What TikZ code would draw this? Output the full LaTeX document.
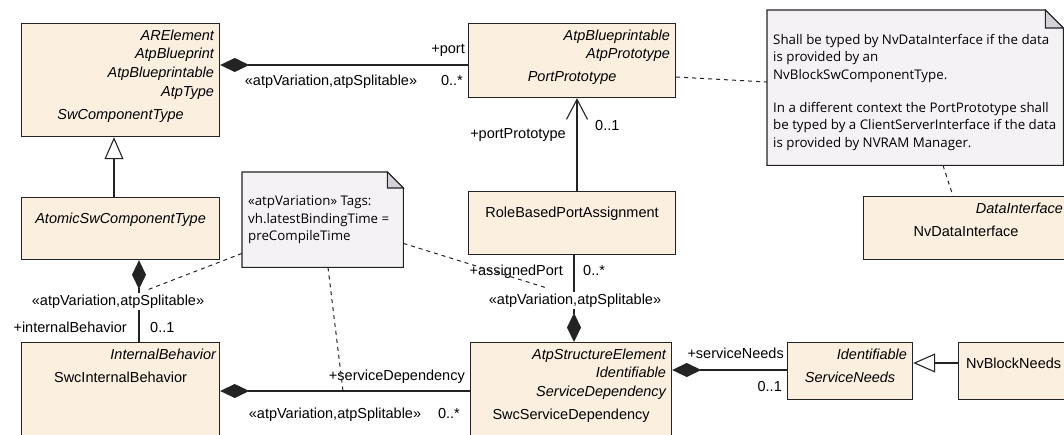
\documentclass[tikz,border=0pt]{standalone}
\usepackage{fontspec}
\setmainfont{Liberation Sans}
\newfontfamily\notefont{Open Sans}
\usetikzlibrary{arrows.meta,calc,positioning}

\definecolor{clsfill}{RGB}{251,240,224}
\definecolor{notefill}{RGB}{245,242,246}
\definecolor{foldfill}{RGB}{212,210,216}
\definecolor{umlline}{RGB}{35,35,35}

\def\clsfont{\fontsize{14.5}{17}\selectfont}
\def\notesize{\fontsize{13.3}{17.4}\selectfont}

\begin{document}
\begin{tikzpicture}[x=1pt, y=-1pt,
		cls/.style={draw=umlline, fill=clsfill, line width=1.2pt, anchor=north west, inner sep=0pt},
		stereo/.style={font=\clsfont\itshape, anchor=base east, inner sep=0pt},
		clsname/.style={font=\clsfont, anchor=base, inner sep=0pt},
		absname/.style={clsname, font=\clsfont\itshape},
		lbl/.style={font=\clsfont, inner sep=0pt},
		onlbl/.style={lbl, fill=white, inner sep=1.5pt},
		comp/.style={draw=umlline, line width=1.1pt, {Diamond[length=29pt, width=14pt]}-},
		gen/.style={draw=umlline, line width=1.1pt, -{Triangle[length=22pt, width=19pt, fill=white]}},
		nav/.style={draw=umlline, line width=1.1pt, -{Straight Barb[length=20pt, width=21pt]}},
		notebox/.style={anchor=north west, inner sep=0pt},
		notepath/.style={draw=umlline, fill=notefill, line width=1.1pt},
		foldpath/.style={draw=umlline, fill=foldfill, line width=1.1pt},
		notetext/.style={font=\notefont\notesize, anchor=north west, align=left, inner sep=0pt},
		anchorline/.style={draw=umlline, line width=1pt, dash pattern=on 4pt off 4pt}
	]

		\useasboundingbox (0,0) rectangle (1064,434);

		\def\sfirst{17}   % baseline of first superclass line below box top
		\def\sstep{18.9}  % line distance of superclass lines
		\def\sgap{23}     % from last superclass line to class name
		\def\fold{18}     % folded corner of the notes

		% Notes
		\node[notebox, minimum width=296, minimum height=155] (noteA) at (767,10) {};
		\draw[notepath] (noteA.north west) -- ($(noteA.north east)+(-\fold,0)$) -- ($(noteA.north east)+(0,\fold)$)
			-- (noteA.south east) -- (noteA.south west) -- cycle;
		\draw[foldpath] ($(noteA.north east)+(-\fold,0)$) -- ($(noteA.north east)+(-\fold,\fold)$) -- ($(noteA.north east)+(0,\fold)$) -- cycle;
		\node[notetext] (noteA-t) at ($(noteA.north west)+(6,24)$)
			{Shall be typed by NvDataInterface if the data\\is provided by an\\NvBlockSwComponentType.\\[16pt]In a different context the PortPrototype shall\\be typed by a ClientServerInterface if the data\\is provided by NVRAM Manager.};

		\node[notebox, minimum width=161, minimum height=95] (noteB) at (242,172) {};
		\draw[notepath] (noteB.north west) -- ($(noteB.north east)+(-16,0)$) -- ($(noteB.north east)+(0,16)$)
			-- (noteB.south east) -- (noteB.south west) -- cycle;
		\draw[foldpath] ($(noteB.north east)+(-16,0)$) -- ($(noteB.north east)+(-16,16)$) -- ($(noteB.north east)+(0,16)$) -- cycle;
		\node[notetext] (noteB-t) at ($(noteB.north west)+(6,24)$)
			{«atpVariation» Tags:\\vh.latestBindingTime =\\preCompileTime};

		% Classes
		\node[cls, minimum width=198, minimum height=113] (swct) at (21,23) {};
		\foreach \s [count=\k] in {ARElement,AtpBlueprint,AtpBlueprintable,AtpType}
			\node[stereo] (swct-s\k) at ($(swct.north east)+(-6,{\sfirst+\sstep*(\k-1)})$) {\s};
		\node[absname] (swct-n) at ($(swct.north)+(0,{\sfirst+\sstep*3+\sgap})$) {SwComponentType};

		\node[cls, minimum width=207, minimum height=74] (port) at (468,23) {};
		\foreach \s [count=\k] in {AtpBlueprintable,AtpPrototype}
			\node[stereo] (port-s\k) at ($(port.north east)+(-6,{\sfirst+\sstep*(\k-1)})$) {\s};
		\node[absname] (port-n) at ($(port.north)+(0,{\sfirst+\sstep+\sgap})$) {PortPrototype};

		\node[cls, minimum width=198, minimum height=62] (atomic) at (21,197) {};
		\node[absname] (atomic-n) at ($(atomic.north)+(0,26)$) {AtomicSwComponentType};

		\node[cls, minimum width=207, minimum height=63] (rbpa) at (468,191) {};
		\node[clsname] (rbpa-n) at ($(rbpa.north)+(0,26)$) {RoleBasedPortAssignment};

		\node[cls, minimum width=205, minimum height=63] (nvdi) at (863,196) {};
		\node[stereo] (nvdi-s1) at ($(nvdi.north east)+(-6,\sfirst)$) {DataInterface};
		\node[clsname] (nvdi-n) at ($(nvdi.north)+(0,{\sfirst+\sgap})$) {NvDataInterface};

		\node[cls, minimum width=198, minimum height=100] (sib) at (21,342) {};
		\node[stereo] (sib-s1) at ($(sib.north east)+(-4,\sfirst)$) {InternalBehavior};
		\node[clsname] (sib-n) at ($(sib.north)+(0,{\sfirst+\sgap})$) {SwcInternalBehavior};

		\node[cls, minimum width=201, minimum height=100] (ssd) at (470,342) {};
		\foreach \s [count=\k] in {AtpStructureElement,Identifiable,ServiceDependency}
			\node[stereo] (ssd-s\k) at ($(ssd.north east)+(-6,{\sfirst+\sstep*(\k-1)})$) {\s};
		\node[clsname] (ssd-n) at ($(ssd.north)+(0,{\sfirst+\sstep*2+\sgap})$) {SwcServiceDependency};

		\node[cls, minimum width=125, minimum height=57] (sneeds) at (787,342) {};
		\node[stereo] (sneeds-s1) at ($(sneeds.north east)+(-6,\sfirst)$) {Identifiable};
		\node[absname] (sneeds-n) at ($(sneeds.north)+(0,{\sfirst+\sgap})$) {ServiceNeeds};

		\node[cls, minimum width=110, minimum height=57] (nvbn) at (958,342) {};
		\node[clsname] (nvbn-n) at ($(nvbn.north)+(0,26)$) {NvBlockNeeds};

		% Generalizations
		\draw[gen] ($(atomic.north west)+(93,0)$) -- ($(swct.south west)+(93,0)$);
		\draw[gen] ($(nvbn.north west)+(0,21)$) -- ($(sneeds.north east)+(0,21)$);

		% Navigable association
		\draw[nav] ($(rbpa.north west)+(109,0)$) -- ($(port.south west)+(109,0)$);
		\node[lbl, anchor=base] (l-pp) at (518,138) {+portPrototype};
		\node[lbl, anchor=base west] (l-ppm) at (595,130) {0..1};

		% Compositions
		\draw[comp] ($(swct.north east)+(0,42)$) -- ($(port.north west)+(0,42)$);
		\node[lbl, anchor=base east] (l-port) at (465,53) {+port};
		\node[lbl, anchor=base east] (l-portm) at (463,85) {0..*};
		\node[lbl, anchor=base] (l-portv) at (331,85) {«atpVariation,atpSplitable»};

		\draw[comp] ($(atomic.south west)+(118,0)$) -- ($(sib.north west)+(118,0)$);
		\node[onlbl, anchor=base] (l-ibv) at (118,305) {«atpVariation,atpSplitable»};
		\node[lbl, anchor=base east] (l-ib) at (127,332) {+internalBehavior};
		\node[lbl, anchor=base west] (l-ibm) at (150,332) {0..1};

		\draw[comp] ($(ssd.north west)+(104,0)$) -- ($(rbpa.south west)+(106,0)$);
		\node[onlbl, anchor=base] (l-apv) at (575,304) {«atpVariation,atpSplitable»};
		\node[lbl, anchor=base east] (l-ap) at (563,275) {+assignedPort};
		\node[lbl, anchor=base west] (l-apm) at (583,275) {0..*};

		\draw[comp] ($(sib.north east)+(0,49)$) -- ($(ssd.north west)+(0,49)$);
		\node[lbl, anchor=base east] (l-sd) at (465,380) {+serviceDependency};
		\node[lbl, anchor=base] (l-sdv) at (335,418) {«atpVariation,atpSplitable»};
		\node[lbl, anchor=base east] (l-sdm) at (460,418) {0..*};

		\draw[comp] ($(ssd.north east)+(0,28)$) -- ($(sneeds.north west)+(0,28)$);
		\node[lbl, anchor=base east] (l-sn) at (784,358) {+serviceNeeds};
		\node[lbl, anchor=base east] (l-snm) at (782,391) {0..1};

		% Note anchors
		\coordinate (pt-ib) at (147,290);
		\coordinate (pt-ap) at (547,288);
		\coordinate (pt-sd) at (343,391);
		\draw[anchorline] ($(port.north east)+(0,54)$) -- ($(noteA.north west)+(0,72)$);
		\draw[anchorline] ($(noteA.south west)+(176,0)$) -- ($(nvdi.north west)+(90,0)$);
		\draw[anchorline] ($(noteB.south west)+(0,-14)$) -- (pt-ib);
		\draw[anchorline] ($(noteB.south east)+(0,-24)$) -- (pt-ap);
		\draw[anchorline] ($(noteB.south west)+(86,0)$) -- (pt-sd);

	\end{tikzpicture}
\end{document}
